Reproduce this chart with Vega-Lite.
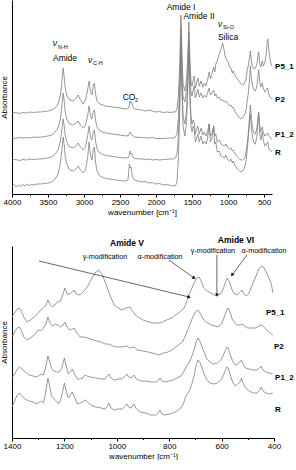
{
"$schema":"https://vega.github.io/schema/vega-lite/v6.json",
"padding":0,
"spacing":20,
"config":{"font":"Liberation Sans","view":{"stroke":null},
"axis":{"grid":false,"domainColor":"#000","tickColor":"#000","labelFontSize":8,"titleFontSize":8,"titleFontWeight":"normal","labelFont":"Liberation Sans","titleFont":"Liberation Sans","labelColor":"#000","titleColor":"#000","labelPadding":1,"titlePadding":2,"labelOverlap":false,"labelFlush":false},
"axisY":{"titlePadding":4}},
"datasets":{
"top":[
{"s":"P5_1","w":4000,"a":81},{"s":"P5_1","w":3950,"a":81.5},{"s":"P5_1","w":3900,"a":80.5},{"s":"P5_1","w":3850,"a":81.5},{"s":"P5_1","w":3800,"a":81},{"s":"P5_1","w":3750,"a":82},{"s":"P5_1","w":3700,"a":81.5},{"s":"P5_1","w":3650,"a":82},{"s":"P5_1","w":3600,"a":82},{"s":"P5_1","w":3550,"a":82.5},{"s":"P5_1","w":3500,"a":83},{"s":"P5_1","w":3450,"a":84},{"s":"P5_1","w":3400,"a":86},{"s":"P5_1","w":3360,"a":90},{"s":"P5_1","w":3330,"a":98},{"s":"P5_1","w":3310,"a":110},{"s":"P5_1","w":3290,"a":126},{"s":"P5_1","w":3275,"a":117},{"s":"P5_1","w":3260,"a":106},{"s":"P5_1","w":3240,"a":99},{"s":"P5_1","w":3200,"a":94},{"s":"P5_1","w":3150,"a":93},{"s":"P5_1","w":3110,"a":96},{"s":"P5_1","w":3080,"a":99},{"s":"P5_1","w":3050,"a":94},{"s":"P5_1","w":3010,"a":90},{"s":"P5_1","w":2980,"a":94},{"s":"P5_1","w":2950,"a":104},{"s":"P5_1","w":2930,"a":113},{"s":"P5_1","w":2910,"a":102},{"s":"P5_1","w":2890,"a":99},{"s":"P5_1","w":2870,"a":109},{"s":"P5_1","w":2855,"a":111},{"s":"P5_1","w":2840,"a":100},{"s":"P5_1","w":2820,"a":93},{"s":"P5_1","w":2780,"a":90},{"s":"P5_1","w":2700,"a":88},{"s":"P5_1","w":2600,"a":87},{"s":"P5_1","w":2500,"a":86},{"s":"P5_1","w":2420,"a":85},{"s":"P5_1","w":2380,"a":86},{"s":"P5_1","w":2360,"a":93},{"s":"P5_1","w":2350,"a":91},{"s":"P5_1","w":2340,"a":92},{"s":"P5_1","w":2320,"a":87},{"s":"P5_1","w":2300,"a":85},{"s":"P5_1","w":2250,"a":84.5},{"s":"P5_1","w":2200,"a":84},{"s":"P5_1","w":2150,"a":83},{"s":"P5_1","w":2100,"a":84},{"s":"P5_1","w":2050,"a":83},{"s":"P5_1","w":2000,"a":82},{"s":"P5_1","w":1950,"a":82.5},{"s":"P5_1","w":1900,"a":81.5},{"s":"P5_1","w":1850,"a":82},{"s":"P5_1","w":1800,"a":81.5},{"s":"P5_1","w":1760,"a":82},{"s":"P5_1","w":1730,"a":82},{"s":"P5_1","w":1710,"a":85},{"s":"P5_1","w":1690,"a":98},{"s":"P5_1","w":1670,"a":130},{"s":"P5_1","w":1655,"a":179},{"s":"P5_1","w":1640,"a":140},{"s":"P5_1","w":1625,"a":110},{"s":"P5_1","w":1600,"a":103},{"s":"P5_1","w":1575,"a":115},{"s":"P5_1","w":1555,"a":145},{"s":"P5_1","w":1545,"a":172},{"s":"P5_1","w":1530,"a":135},{"s":"P5_1","w":1515,"a":112},{"s":"P5_1","w":1500,"a":108},{"s":"P5_1","w":1485,"a":114},{"s":"P5_1","w":1470,"a":118},{"s":"P5_1","w":1455,"a":106},{"s":"P5_1","w":1440,"a":110},{"s":"P5_1","w":1420,"a":116},{"s":"P5_1","w":1400,"a":108},{"s":"P5_1","w":1375,"a":113},{"s":"P5_1","w":1350,"a":107},{"s":"P5_1","w":1330,"a":111},{"s":"P5_1","w":1306,"a":108},{"s":"P5_1","w":1285,"a":114},{"s":"P5_1","w":1263,"a":122},{"s":"P5_1","w":1245,"a":115},{"s":"P5_1","w":1225,"a":120},{"s":"P5_1","w":1200,"a":127},{"s":"P5_1","w":1185,"a":122},{"s":"P5_1","w":1170,"a":130},{"s":"P5_1","w":1150,"a":133},{"s":"P5_1","w":1130,"a":138},{"s":"P5_1","w":1110,"a":142},{"s":"P5_1","w":1090,"a":147},{"s":"P5_1","w":1075,"a":151},{"s":"P5_1","w":1060,"a":146},{"s":"P5_1","w":1040,"a":138},{"s":"P5_1","w":1020,"a":134},{"s":"P5_1","w":1000,"a":132},{"s":"P5_1","w":980,"a":127},{"s":"P5_1","w":960,"a":126},{"s":"P5_1","w":940,"a":121},{"s":"P5_1","w":930,"a":123},{"s":"P5_1","w":900,"a":118},{"s":"P5_1","w":870,"a":115},{"s":"P5_1","w":840,"a":112},{"s":"P5_1","w":810,"a":110},{"s":"P5_1","w":790,"a":109},{"s":"P5_1","w":770,"a":111},{"s":"P5_1","w":750,"a":115},{"s":"P5_1","w":735,"a":124},{"s":"P5_1","w":720,"a":128},{"s":"P5_1","w":705,"a":135},{"s":"P5_1","w":690,"a":143},{"s":"P5_1","w":675,"a":132},{"s":"P5_1","w":660,"a":127},{"s":"P5_1","w":640,"a":125},{"s":"P5_1","w":620,"a":126},{"s":"P5_1","w":600,"a":130},{"s":"P5_1","w":585,"a":137},{"s":"P5_1","w":575,"a":142},{"s":"P5_1","w":560,"a":130},{"s":"P5_1","w":545,"a":127},{"s":"P5_1","w":525,"a":133},{"s":"P5_1","w":510,"a":128},{"s":"P5_1","w":490,"a":131},{"s":"P5_1","w":470,"a":140},{"s":"P5_1","w":455,"a":153},{"s":"P5_1","w":448,"a":155},{"s":"P5_1","w":435,"a":145},{"s":"P5_1","w":420,"a":136},{"s":"P5_1","w":405,"a":130},{"s":"P5_1","w":390,"a":128},
{"s":"P2","w":4000,"a":56},{"s":"P2","w":3950,"a":55.5},{"s":"P2","w":3900,"a":56.5},{"s":"P2","w":3850,"a":56},{"s":"P2","w":3800,"a":56.5},{"s":"P2","w":3750,"a":56},{"s":"P2","w":3700,"a":57},{"s":"P2","w":3650,"a":56.5},{"s":"P2","w":3600,"a":57},{"s":"P2","w":3550,"a":57.5},{"s":"P2","w":3500,"a":58},{"s":"P2","w":3450,"a":59},{"s":"P2","w":3400,"a":62},{"s":"P2","w":3360,"a":66},{"s":"P2","w":3330,"a":74},{"s":"P2","w":3310,"a":86},{"s":"P2","w":3290,"a":101},{"s":"P2","w":3275,"a":93},{"s":"P2","w":3260,"a":82},{"s":"P2","w":3240,"a":75},{"s":"P2","w":3200,"a":70},{"s":"P2","w":3150,"a":69},{"s":"P2","w":3110,"a":71},{"s":"P2","w":3080,"a":73},{"s":"P2","w":3050,"a":69},{"s":"P2","w":3010,"a":66},{"s":"P2","w":2980,"a":69},{"s":"P2","w":2950,"a":78},{"s":"P2","w":2930,"a":88},{"s":"P2","w":2910,"a":78},{"s":"P2","w":2890,"a":75},{"s":"P2","w":2870,"a":83},{"s":"P2","w":2855,"a":84},{"s":"P2","w":2840,"a":74},{"s":"P2","w":2820,"a":67},{"s":"P2","w":2780,"a":63},{"s":"P2","w":2700,"a":61},{"s":"P2","w":2600,"a":60},{"s":"P2","w":2500,"a":59},{"s":"P2","w":2420,"a":58},{"s":"P2","w":2380,"a":58.5},{"s":"P2","w":2360,"a":62},{"s":"P2","w":2350,"a":60.5},{"s":"P2","w":2340,"a":60},{"s":"P2","w":2320,"a":58},{"s":"P2","w":2300,"a":57},{"s":"P2","w":2200,"a":56.5},{"s":"P2","w":2100,"a":56},{"s":"P2","w":2050,"a":56.5},{"s":"P2","w":2000,"a":55.5},{"s":"P2","w":1900,"a":55.5},{"s":"P2","w":1800,"a":56},{"s":"P2","w":1760,"a":56},{"s":"P2","w":1730,"a":57},{"s":"P2","w":1710,"a":60},{"s":"P2","w":1690,"a":75},{"s":"P2","w":1670,"a":110},{"s":"P2","w":1655,"a":169},{"s":"P2","w":1640,"a":125},{"s":"P2","w":1625,"a":97},{"s":"P2","w":1600,"a":92},{"s":"P2","w":1575,"a":105},{"s":"P2","w":1555,"a":135},{"s":"P2","w":1545,"a":162},{"s":"P2","w":1530,"a":125},{"s":"P2","w":1515,"a":102},{"s":"P2","w":1500,"a":98},{"s":"P2","w":1485,"a":104},{"s":"P2","w":1470,"a":108},{"s":"P2","w":1455,"a":96},{"s":"P2","w":1440,"a":99},{"s":"P2","w":1420,"a":105},{"s":"P2","w":1400,"a":97},{"s":"P2","w":1375,"a":101},{"s":"P2","w":1350,"a":96},{"s":"P2","w":1330,"a":99},{"s":"P2","w":1306,"a":97},{"s":"P2","w":1285,"a":101},{"s":"P2","w":1263,"a":106},{"s":"P2","w":1245,"a":99},{"s":"P2","w":1225,"a":101},{"s":"P2","w":1200,"a":104},{"s":"P2","w":1185,"a":98},{"s":"P2","w":1170,"a":100},{"s":"P2","w":1150,"a":96},{"s":"P2","w":1120,"a":97},{"s":"P2","w":1100,"a":94},{"s":"P2","w":1075,"a":94},{"s":"P2","w":1050,"a":92},{"s":"P2","w":1030,"a":93},{"s":"P2","w":1000,"a":90},{"s":"P2","w":980,"a":88},{"s":"P2","w":960,"a":89},{"s":"P2","w":940,"a":86},{"s":"P2","w":930,"a":87},{"s":"P2","w":900,"a":82},{"s":"P2","w":870,"a":79},{"s":"P2","w":840,"a":76},{"s":"P2","w":820,"a":75},{"s":"P2","w":800,"a":76},{"s":"P2","w":780,"a":78},{"s":"P2","w":760,"a":81},{"s":"P2","w":745,"a":86},{"s":"P2","w":735,"a":93},{"s":"P2","w":720,"a":100},{"s":"P2","w":705,"a":112},{"s":"P2","w":690,"a":128},{"s":"P2","w":675,"a":115},{"s":"P2","w":660,"a":108},{"s":"P2","w":640,"a":104},{"s":"P2","w":620,"a":103},{"s":"P2","w":600,"a":108},{"s":"P2","w":585,"a":117},{"s":"P2","w":575,"a":124},{"s":"P2","w":560,"a":112},{"s":"P2","w":545,"a":107},{"s":"P2","w":525,"a":111},{"s":"P2","w":510,"a":106},{"s":"P2","w":490,"a":102},{"s":"P2","w":470,"a":104},{"s":"P2","w":450,"a":106},{"s":"P2","w":435,"a":100},{"s":"P2","w":420,"a":97},{"s":"P2","w":405,"a":96},{"s":"P2","w":390,"a":95},
{"s":"P1_2","w":4000,"a":34},{"s":"P1_2","w":3950,"a":34.5},{"s":"P1_2","w":3900,"a":33.5},{"s":"P1_2","w":3850,"a":34.5},{"s":"P1_2","w":3800,"a":34},{"s":"P1_2","w":3750,"a":35},{"s":"P1_2","w":3700,"a":34.5},{"s":"P1_2","w":3650,"a":35},{"s":"P1_2","w":3600,"a":35},{"s":"P1_2","w":3550,"a":35.5},{"s":"P1_2","w":3500,"a":36},{"s":"P1_2","w":3450,"a":37},{"s":"P1_2","w":3400,"a":40},{"s":"P1_2","w":3360,"a":44},{"s":"P1_2","w":3330,"a":52},{"s":"P1_2","w":3310,"a":63},{"s":"P1_2","w":3290,"a":75},{"s":"P1_2","w":3275,"a":68},{"s":"P1_2","w":3260,"a":58},{"s":"P1_2","w":3240,"a":52},{"s":"P1_2","w":3200,"a":47},{"s":"P1_2","w":3150,"a":46},{"s":"P1_2","w":3110,"a":48},{"s":"P1_2","w":3080,"a":51},{"s":"P1_2","w":3050,"a":47},{"s":"P1_2","w":3010,"a":44},{"s":"P1_2","w":2980,"a":47},{"s":"P1_2","w":2950,"a":58},{"s":"P1_2","w":2930,"a":68},{"s":"P1_2","w":2910,"a":57},{"s":"P1_2","w":2890,"a":54},{"s":"P1_2","w":2870,"a":63},{"s":"P1_2","w":2855,"a":64},{"s":"P1_2","w":2840,"a":53},{"s":"P1_2","w":2820,"a":45},{"s":"P1_2","w":2780,"a":41},{"s":"P1_2","w":2700,"a":38.5},{"s":"P1_2","w":2600,"a":37.5},{"s":"P1_2","w":2500,"a":36.5},{"s":"P1_2","w":2420,"a":36},{"s":"P1_2","w":2380,"a":36.5},{"s":"P1_2","w":2360,"a":43},{"s":"P1_2","w":2350,"a":40},{"s":"P1_2","w":2340,"a":41},{"s":"P1_2","w":2320,"a":37},{"s":"P1_2","w":2300,"a":35.5},{"s":"P1_2","w":2200,"a":35},{"s":"P1_2","w":2150,"a":34.5},{"s":"P1_2","w":2100,"a":35},{"s":"P1_2","w":2050,"a":34},{"s":"P1_2","w":2000,"a":34.5},{"s":"P1_2","w":1950,"a":34},{"s":"P1_2","w":1900,"a":34.5},{"s":"P1_2","w":1800,"a":35},{"s":"P1_2","w":1760,"a":35},{"s":"P1_2","w":1730,"a":36},{"s":"P1_2","w":1710,"a":40},{"s":"P1_2","w":1690,"a":58},{"s":"P1_2","w":1670,"a":100},{"s":"P1_2","w":1655,"a":159},{"s":"P1_2","w":1640,"a":112},{"s":"P1_2","w":1625,"a":78},{"s":"P1_2","w":1600,"a":70},{"s":"P1_2","w":1575,"a":85},{"s":"P1_2","w":1555,"a":125},{"s":"P1_2","w":1545,"a":152},{"s":"P1_2","w":1530,"a":105},{"s":"P1_2","w":1515,"a":78},{"s":"P1_2","w":1500,"a":70},{"s":"P1_2","w":1485,"a":74},{"s":"P1_2","w":1470,"a":72},{"s":"P1_2","w":1455,"a":60},{"s":"P1_2","w":1440,"a":64},{"s":"P1_2","w":1420,"a":68},{"s":"P1_2","w":1400,"a":60},{"s":"P1_2","w":1375,"a":66},{"s":"P1_2","w":1350,"a":59},{"s":"P1_2","w":1330,"a":62},{"s":"P1_2","w":1306,"a":58},{"s":"P1_2","w":1285,"a":62},{"s":"P1_2","w":1263,"a":70},{"s":"P1_2","w":1245,"a":58},{"s":"P1_2","w":1225,"a":60},{"s":"P1_2","w":1200,"a":68},{"s":"P1_2","w":1185,"a":58},{"s":"P1_2","w":1170,"a":60},{"s":"P1_2","w":1150,"a":52},{"s":"P1_2","w":1120,"a":54},{"s":"P1_2","w":1100,"a":50},{"s":"P1_2","w":1075,"a":49},{"s":"P1_2","w":1050,"a":48},{"s":"P1_2","w":1030,"a":50},{"s":"P1_2","w":1000,"a":46},{"s":"P1_2","w":980,"a":45},{"s":"P1_2","w":960,"a":46},{"s":"P1_2","w":940,"a":43},{"s":"P1_2","w":930,"a":44},{"s":"P1_2","w":900,"a":40},{"s":"P1_2","w":870,"a":37},{"s":"P1_2","w":840,"a":35},{"s":"P1_2","w":820,"a":34},{"s":"P1_2","w":800,"a":34},{"s":"P1_2","w":780,"a":35},{"s":"P1_2","w":760,"a":38},{"s":"P1_2","w":745,"a":44},{"s":"P1_2","w":735,"a":50},{"s":"P1_2","w":720,"a":60},{"s":"P1_2","w":705,"a":75},{"s":"P1_2","w":690,"a":89},{"s":"P1_2","w":675,"a":75},{"s":"P1_2","w":660,"a":66},{"s":"P1_2","w":640,"a":61},{"s":"P1_2","w":620,"a":60},{"s":"P1_2","w":600,"a":66},{"s":"P1_2","w":585,"a":77},{"s":"P1_2","w":575,"a":82},{"s":"P1_2","w":560,"a":68},{"s":"P1_2","w":545,"a":62},{"s":"P1_2","w":525,"a":67},{"s":"P1_2","w":510,"a":62},{"s":"P1_2","w":490,"a":58},{"s":"P1_2","w":470,"a":59},{"s":"P1_2","w":450,"a":61},{"s":"P1_2","w":435,"a":58},{"s":"P1_2","w":420,"a":57},{"s":"P1_2","w":405,"a":56},{"s":"P1_2","w":390,"a":55},
{"s":"R","w":4000,"a":8},{"s":"R","w":3970,"a":9.5},{"s":"R","w":3940,"a":7},{"s":"R","w":3910,"a":9},{"s":"R","w":3880,"a":7.5},{"s":"R","w":3850,"a":9.5},{"s":"R","w":3820,"a":8},{"s":"R","w":3790,"a":10},{"s":"R","w":3760,"a":8.5},{"s":"R","w":3730,"a":9.5},{"s":"R","w":3700,"a":9},{"s":"R","w":3650,"a":10},{"s":"R","w":3600,"a":10},{"s":"R","w":3550,"a":10.5},{"s":"R","w":3500,"a":11},{"s":"R","w":3450,"a":12},{"s":"R","w":3400,"a":15},{"s":"R","w":3360,"a":20},{"s":"R","w":3330,"a":30},{"s":"R","w":3310,"a":42},{"s":"R","w":3290,"a":57},{"s":"R","w":3275,"a":49},{"s":"R","w":3260,"a":37},{"s":"R","w":3240,"a":30},{"s":"R","w":3200,"a":24},{"s":"R","w":3150,"a":23},{"s":"R","w":3110,"a":25},{"s":"R","w":3080,"a":28},{"s":"R","w":3050,"a":24},{"s":"R","w":3010,"a":21},{"s":"R","w":2980,"a":24},{"s":"R","w":2950,"a":36},{"s":"R","w":2930,"a":52},{"s":"R","w":2910,"a":38},{"s":"R","w":2890,"a":34},{"s":"R","w":2870,"a":45},{"s":"R","w":2855,"a":47},{"s":"R","w":2840,"a":32},{"s":"R","w":2820,"a":23},{"s":"R","w":2780,"a":18},{"s":"R","w":2700,"a":15.5},{"s":"R","w":2600,"a":14.5},{"s":"R","w":2500,"a":13.5},{"s":"R","w":2420,"a":13},{"s":"R","w":2390,"a":14},{"s":"R","w":2370,"a":30},{"s":"R","w":2358,"a":26},{"s":"R","w":2345,"a":27},{"s":"R","w":2330,"a":18},{"s":"R","w":2300,"a":14},{"s":"R","w":2250,"a":13},{"s":"R","w":2200,"a":12},{"s":"R","w":2150,"a":12.5},{"s":"R","w":2100,"a":11},{"s":"R","w":2050,"a":11.5},{"s":"R","w":2000,"a":10},{"s":"R","w":1950,"a":10.5},{"s":"R","w":1900,"a":9},{"s":"R","w":1850,"a":9.5},{"s":"R","w":1800,"a":8.5},{"s":"R","w":1760,"a":8},{"s":"R","w":1730,"a":8.5},{"s":"R","w":1710,"a":12},{"s":"R","w":1690,"a":35},{"s":"R","w":1670,"a":85},{"s":"R","w":1655,"a":149},{"s":"R","w":1640,"a":100},{"s":"R","w":1625,"a":68},{"s":"R","w":1600,"a":58},{"s":"R","w":1575,"a":72},{"s":"R","w":1555,"a":115},{"s":"R","w":1545,"a":142},{"s":"R","w":1530,"a":95},{"s":"R","w":1515,"a":68},{"s":"R","w":1500,"a":62},{"s":"R","w":1485,"a":68},{"s":"R","w":1470,"a":66},{"s":"R","w":1455,"a":52},{"s":"R","w":1440,"a":55},{"s":"R","w":1420,"a":60},{"s":"R","w":1400,"a":52},{"s":"R","w":1375,"a":58},{"s":"R","w":1350,"a":50},{"s":"R","w":1330,"a":53},{"s":"R","w":1306,"a":50},{"s":"R","w":1285,"a":55},{"s":"R","w":1263,"a":70},{"s":"R","w":1245,"a":52},{"s":"R","w":1225,"a":55},{"s":"R","w":1200,"a":68},{"s":"R","w":1185,"a":50},{"s":"R","w":1170,"a":52},{"s":"R","w":1150,"a":42},{"s":"R","w":1120,"a":43},{"s":"R","w":1100,"a":38},{"s":"R","w":1075,"a":37},{"s":"R","w":1050,"a":36},{"s":"R","w":1030,"a":39},{"s":"R","w":1000,"a":34},{"s":"R","w":980,"a":33},{"s":"R","w":960,"a":35},{"s":"R","w":940,"a":31},{"s":"R","w":930,"a":33},{"s":"R","w":900,"a":28},{"s":"R","w":870,"a":25},{"s":"R","w":840,"a":23},{"s":"R","w":820,"a":22},{"s":"R","w":800,"a":23},{"s":"R","w":780,"a":25},{"s":"R","w":760,"a":29},{"s":"R","w":745,"a":36},{"s":"R","w":735,"a":44},{"s":"R","w":720,"a":55},{"s":"R","w":705,"a":68},{"s":"R","w":690,"a":80},{"s":"R","w":675,"a":66},{"s":"R","w":660,"a":56},{"s":"R","w":640,"a":51},{"s":"R","w":620,"a":50},{"s":"R","w":600,"a":58},{"s":"R","w":585,"a":72},{"s":"R","w":575,"a":80},{"s":"R","w":560,"a":60},{"s":"R","w":545,"a":54},{"s":"R","w":525,"a":62},{"s":"R","w":510,"a":54},{"s":"R","w":490,"a":48},{"s":"R","w":470,"a":49},{"s":"R","w":450,"a":52},{"s":"R","w":435,"a":46},{"s":"R","w":420,"a":44},{"s":"R","w":405,"a":43},{"s":"R","w":390,"a":42}
],
"bot":[
{"s":"P5_1","w":1400,"a":121},{"s":"P5_1","w":1390,"a":125},{"s":"P5_1","w":1380,"a":129},{"s":"P5_1","w":1373,"a":130},{"s":"P5_1","w":1365,"a":127},{"s":"P5_1","w":1355,"a":121},{"s":"P5_1","w":1343,"a":116},{"s":"P5_1","w":1330,"a":118},{"s":"P5_1","w":1315,"a":121},{"s":"P5_1","w":1300,"a":125},{"s":"P5_1","w":1290,"a":128},{"s":"P5_1","w":1280,"a":130},{"s":"P5_1","w":1270,"a":133},{"s":"P5_1","w":1263,"a":138},{"s":"P5_1","w":1255,"a":134},{"s":"P5_1","w":1245,"a":131},{"s":"P5_1","w":1235,"a":134},{"s":"P5_1","w":1225,"a":136},{"s":"P5_1","w":1215,"a":137},{"s":"P5_1","w":1205,"a":144},{"s":"P5_1","w":1198,"a":150},{"s":"P5_1","w":1190,"a":144},{"s":"P5_1","w":1180,"a":144},{"s":"P5_1","w":1170,"a":146},{"s":"P5_1","w":1163,"a":148},{"s":"P5_1","w":1155,"a":144},{"s":"P5_1","w":1140,"a":143},{"s":"P5_1","w":1125,"a":147},{"s":"P5_1","w":1110,"a":152},{"s":"P5_1","w":1095,"a":160},{"s":"P5_1","w":1080,"a":166},{"s":"P5_1","w":1068,"a":168},{"s":"P5_1","w":1055,"a":163},{"s":"P5_1","w":1040,"a":153},{"s":"P5_1","w":1025,"a":142},{"s":"P5_1","w":1010,"a":133},{"s":"P5_1","w":995,"a":130},{"s":"P5_1","w":980,"a":128},{"s":"P5_1","w":965,"a":130},{"s":"P5_1","w":950,"a":131},{"s":"P5_1","w":940,"a":127},{"s":"P5_1","w":925,"a":122},{"s":"P5_1","w":900,"a":118},{"s":"P5_1","w":877,"a":116},{"s":"P5_1","w":860,"a":115},{"s":"P5_1","w":840,"a":115},{"s":"P5_1","w":825,"a":116},{"s":"P5_1","w":810,"a":118},{"s":"P5_1","w":790,"a":120},{"s":"P5_1","w":775,"a":123},{"s":"P5_1","w":755,"a":127},{"s":"P5_1","w":743,"a":130},{"s":"P5_1","w":735,"a":135},{"s":"P5_1","w":727,"a":141},{"s":"P5_1","w":718,"a":147},{"s":"P5_1","w":705,"a":155},{"s":"P5_1","w":695,"a":160},{"s":"P5_1","w":686,"a":161},{"s":"P5_1","w":678,"a":157},{"s":"P5_1","w":668,"a":150},{"s":"P5_1","w":655,"a":147},{"s":"P5_1","w":641,"a":145},{"s":"P5_1","w":630,"a":143},{"s":"P5_1","w":617,"a":142},{"s":"P5_1","w":605,"a":144},{"s":"P5_1","w":595,"a":148},{"s":"P5_1","w":585,"a":156},{"s":"P5_1","w":578,"a":160},{"s":"P5_1","w":570,"a":156},{"s":"P5_1","w":560,"a":148},{"s":"P5_1","w":550,"a":144},{"s":"P5_1","w":541,"a":143},{"s":"P5_1","w":530,"a":146},{"s":"P5_1","w":522,"a":148},{"s":"P5_1","w":515,"a":144},{"s":"P5_1","w":505,"a":142},{"s":"P5_1","w":495,"a":145},{"s":"P5_1","w":485,"a":152},{"s":"P5_1","w":470,"a":161},{"s":"P5_1","w":458,"a":169},{"s":"P5_1","w":448,"a":172},{"s":"P5_1","w":440,"a":171},{"s":"P5_1","w":430,"a":166},{"s":"P5_1","w":420,"a":160},{"s":"P5_1","w":411,"a":155},{"s":"P5_1","w":404,"a":145},
{"s":"P2","w":1400,"a":101},{"s":"P2","w":1390,"a":106},{"s":"P2","w":1380,"a":110},{"s":"P2","w":1373,"a":111},{"s":"P2","w":1365,"a":108},{"s":"P2","w":1355,"a":101},{"s":"P2","w":1343,"a":98},{"s":"P2","w":1330,"a":100},{"s":"P2","w":1315,"a":103},{"s":"P2","w":1300,"a":108},{"s":"P2","w":1290,"a":107},{"s":"P2","w":1280,"a":110},{"s":"P2","w":1270,"a":114},{"s":"P2","w":1263,"a":121},{"s":"P2","w":1255,"a":115},{"s":"P2","w":1245,"a":112},{"s":"P2","w":1235,"a":114},{"s":"P2","w":1225,"a":113},{"s":"P2","w":1215,"a":111},{"s":"P2","w":1205,"a":113},{"s":"P2","w":1198,"a":116},{"s":"P2","w":1190,"a":111},{"s":"P2","w":1180,"a":108},{"s":"P2","w":1170,"a":109},{"s":"P2","w":1163,"a":110},{"s":"P2","w":1155,"a":106},{"s":"P2","w":1140,"a":101},{"s":"P2","w":1125,"a":101},{"s":"P2","w":1110,"a":100},{"s":"P2","w":1090,"a":98},{"s":"P2","w":1075,"a":97},{"s":"P2","w":1060,"a":96},{"s":"P2","w":1045,"a":94},{"s":"P2","w":1030,"a":94},{"s":"P2","w":1015,"a":92},{"s":"P2","w":1000,"a":91},{"s":"P2","w":980,"a":91},{"s":"P2","w":962,"a":92},{"s":"P2","w":950,"a":90},{"s":"P2","w":935,"a":91},{"s":"P2","w":920,"a":88},{"s":"P2","w":900,"a":87},{"s":"P2","w":880,"a":86},{"s":"P2","w":866,"a":85},{"s":"P2","w":850,"a":84},{"s":"P2","w":840,"a":83},{"s":"P2","w":830,"a":84},{"s":"P2","w":820,"a":85},{"s":"P2","w":805,"a":86},{"s":"P2","w":790,"a":88},{"s":"P2","w":775,"a":91},{"s":"P2","w":760,"a":94},{"s":"P2","w":750,"a":96},{"s":"P2","w":740,"a":101},{"s":"P2","w":730,"a":108},{"s":"P2","w":720,"a":114},{"s":"P2","w":710,"a":121},{"s":"P2","w":700,"a":126},{"s":"P2","w":690,"a":128},{"s":"P2","w":680,"a":124},{"s":"P2","w":670,"a":119},{"s":"P2","w":660,"a":116},{"s":"P2","w":640,"a":113},{"s":"P2","w":625,"a":112},{"s":"P2","w":614,"a":111},{"s":"P2","w":600,"a":114},{"s":"P2","w":590,"a":121},{"s":"P2","w":580,"a":128},{"s":"P2","w":575,"a":130},{"s":"P2","w":568,"a":126},{"s":"P2","w":560,"a":119},{"s":"P2","w":550,"a":115},{"s":"P2","w":540,"a":113},{"s":"P2","w":530,"a":113},{"s":"P2","w":522,"a":114},{"s":"P2","w":512,"a":112},{"s":"P2","w":500,"a":110},{"s":"P2","w":485,"a":110},{"s":"P2","w":470,"a":110},{"s":"P2","w":458,"a":112},{"s":"P2","w":446,"a":113},{"s":"P2","w":435,"a":110},{"s":"P2","w":420,"a":106},{"s":"P2","w":410,"a":104},{"s":"P2","w":404,"a":103},
{"s":"P1_2","w":1400,"a":60},{"s":"P1_2","w":1390,"a":64},{"s":"P1_2","w":1380,"a":69},{"s":"P1_2","w":1372,"a":71},{"s":"P1_2","w":1362,"a":69},{"s":"P1_2","w":1350,"a":66},{"s":"P1_2","w":1335,"a":63},{"s":"P1_2","w":1320,"a":62},{"s":"P1_2","w":1305,"a":61},{"s":"P1_2","w":1295,"a":63},{"s":"P1_2","w":1288,"a":64},{"s":"P1_2","w":1280,"a":63},{"s":"P1_2","w":1272,"a":70},{"s":"P1_2","w":1263,"a":82},{"s":"P1_2","w":1256,"a":76},{"s":"P1_2","w":1250,"a":70},{"s":"P1_2","w":1240,"a":67},{"s":"P1_2","w":1230,"a":66},{"s":"P1_2","w":1220,"a":66},{"s":"P1_2","w":1210,"a":70},{"s":"P1_2","w":1200,"a":80},{"s":"P1_2","w":1193,"a":72},{"s":"P1_2","w":1185,"a":64},{"s":"P1_2","w":1177,"a":66},{"s":"P1_2","w":1170,"a":69},{"s":"P1_2","w":1160,"a":63},{"s":"P1_2","w":1150,"a":59},{"s":"P1_2","w":1140,"a":59},{"s":"P1_2","w":1130,"a":60},{"s":"P1_2","w":1122,"a":63},{"s":"P1_2","w":1115,"a":62},{"s":"P1_2","w":1100,"a":61},{"s":"P1_2","w":1080,"a":60},{"s":"P1_2","w":1060,"a":59},{"s":"P1_2","w":1045,"a":59},{"s":"P1_2","w":1036,"a":62},{"s":"P1_2","w":1030,"a":64},{"s":"P1_2","w":1022,"a":60},{"s":"P1_2","w":1010,"a":58},{"s":"P1_2","w":995,"a":59},{"s":"P1_2","w":980,"a":59},{"s":"P1_2","w":968,"a":62},{"s":"P1_2","w":962,"a":64},{"s":"P1_2","w":955,"a":61},{"s":"P1_2","w":945,"a":60},{"s":"P1_2","w":935,"a":63},{"s":"P1_2","w":925,"a":59},{"s":"P1_2","w":910,"a":57},{"s":"P1_2","w":890,"a":57},{"s":"P1_2","w":870,"a":56},{"s":"P1_2","w":850,"a":56},{"s":"P1_2","w":840,"a":58},{"s":"P1_2","w":835,"a":60},{"s":"P1_2","w":828,"a":57},{"s":"P1_2","w":815,"a":56},{"s":"P1_2","w":800,"a":57},{"s":"P1_2","w":785,"a":58},{"s":"P1_2","w":770,"a":60},{"s":"P1_2","w":755,"a":62},{"s":"P1_2","w":745,"a":66},{"s":"P1_2","w":735,"a":71},{"s":"P1_2","w":725,"a":75},{"s":"P1_2","w":715,"a":81},{"s":"P1_2","w":705,"a":88},{"s":"P1_2","w":697,"a":96},{"s":"P1_2","w":690,"a":100},{"s":"P1_2","w":683,"a":97},{"s":"P1_2","w":675,"a":91},{"s":"P1_2","w":668,"a":87},{"s":"P1_2","w":658,"a":80},{"s":"P1_2","w":645,"a":76},{"s":"P1_2","w":630,"a":74},{"s":"P1_2","w":615,"a":75},{"s":"P1_2","w":600,"a":79},{"s":"P1_2","w":590,"a":85},{"s":"P1_2","w":580,"a":91},{"s":"P1_2","w":575,"a":90},{"s":"P1_2","w":568,"a":84},{"s":"P1_2","w":558,"a":77},{"s":"P1_2","w":548,"a":73},{"s":"P1_2","w":538,"a":74},{"s":"P1_2","w":530,"a":76},{"s":"P1_2","w":524,"a":78},{"s":"P1_2","w":517,"a":73},{"s":"P1_2","w":508,"a":70},{"s":"P1_2","w":495,"a":69},{"s":"P1_2","w":480,"a":68},{"s":"P1_2","w":465,"a":68},{"s":"P1_2","w":455,"a":70},{"s":"P1_2","w":449,"a":72},{"s":"P1_2","w":442,"a":68},{"s":"P1_2","w":430,"a":66},{"s":"P1_2","w":418,"a":65},{"s":"P1_2","w":405,"a":64},
{"s":"R","w":1400,"a":31},{"s":"R","w":1390,"a":37},{"s":"R","w":1380,"a":43},{"s":"R","w":1372,"a":45},{"s":"R","w":1362,"a":42},{"s":"R","w":1350,"a":39},{"s":"R","w":1335,"a":37},{"s":"R","w":1320,"a":36},{"s":"R","w":1305,"a":34},{"s":"R","w":1295,"a":36},{"s":"R","w":1288,"a":37},{"s":"R","w":1280,"a":35},{"s":"R","w":1272,"a":45},{"s":"R","w":1263,"a":60},{"s":"R","w":1256,"a":52},{"s":"R","w":1250,"a":43},{"s":"R","w":1240,"a":39},{"s":"R","w":1230,"a":37},{"s":"R","w":1222,"a":34},{"s":"R","w":1212,"a":40},{"s":"R","w":1200,"a":55},{"s":"R","w":1193,"a":47},{"s":"R","w":1185,"a":40},{"s":"R","w":1177,"a":43},{"s":"R","w":1170,"a":46},{"s":"R","w":1160,"a":40},{"s":"R","w":1150,"a":34},{"s":"R","w":1140,"a":35},{"s":"R","w":1130,"a":36},{"s":"R","w":1122,"a":38},{"s":"R","w":1115,"a":37},{"s":"R","w":1100,"a":33},{"s":"R","w":1080,"a":31},{"s":"R","w":1060,"a":30},{"s":"R","w":1045,"a":29},{"s":"R","w":1036,"a":32},{"s":"R","w":1030,"a":35},{"s":"R","w":1022,"a":30},{"s":"R","w":1010,"a":28},{"s":"R","w":995,"a":29},{"s":"R","w":980,"a":29},{"s":"R","w":968,"a":32},{"s":"R","w":962,"a":34},{"s":"R","w":955,"a":31},{"s":"R","w":945,"a":30},{"s":"R","w":935,"a":34},{"s":"R","w":925,"a":29},{"s":"R","w":910,"a":26},{"s":"R","w":890,"a":25},{"s":"R","w":870,"a":23},{"s":"R","w":850,"a":23},{"s":"R","w":840,"a":26},{"s":"R","w":835,"a":28},{"s":"R","w":828,"a":24},{"s":"R","w":815,"a":23},{"s":"R","w":800,"a":24},{"s":"R","w":785,"a":25},{"s":"R","w":770,"a":27},{"s":"R","w":755,"a":30},{"s":"R","w":745,"a":35},{"s":"R","w":735,"a":43},{"s":"R","w":725,"a":46},{"s":"R","w":715,"a":53},{"s":"R","w":705,"a":62},{"s":"R","w":697,"a":73},{"s":"R","w":690,"a":78},{"s":"R","w":683,"a":76},{"s":"R","w":675,"a":70},{"s":"R","w":668,"a":65},{"s":"R","w":658,"a":59},{"s":"R","w":645,"a":55},{"s":"R","w":630,"a":54},{"s":"R","w":615,"a":55},{"s":"R","w":600,"a":59},{"s":"R","w":590,"a":65},{"s":"R","w":580,"a":71},{"s":"R","w":575,"a":70},{"s":"R","w":568,"a":64},{"s":"R","w":558,"a":56},{"s":"R","w":548,"a":52},{"s":"R","w":538,"a":54},{"s":"R","w":530,"a":56},{"s":"R","w":524,"a":60},{"s":"R","w":517,"a":54},{"s":"R","w":508,"a":50},{"s":"R","w":495,"a":47},{"s":"R","w":480,"a":45},{"s":"R","w":465,"a":45},{"s":"R","w":455,"a":48},{"s":"R","w":449,"a":51},{"s":"R","w":442,"a":47},{"s":"R","w":430,"a":45},{"s":"R","w":418,"a":44},{"s":"R","w":405,"a":45}
],
"topNotes":[{"t":"Amide","w":3264,"a":136},{"t":"CO","w":2375,"a":97},{"t":"Amide I","w":1653,"a":187},{"t":"Amide II","w":1403,"a":178},{"t":"Silica","w":1000,"a":157}],
"topNu":[{"t":"ν","w":3403,"a":151},{"t":"ν","w":2917,"a":134},{"t":"ν","w":1111,"a":170}],
"topSubs":[{"t":"N-H","w":3361,"a":147},{"t":"C-H","w":2875,"a":131},{"t":"Si-O","w":1069,"a":167},{"t":"2","w":2292,"a":94}],
"topLabels":[{"t":"P5_1","w":347,"a":127},{"t":"P2","w":347,"a":94},{"t":"P1_2","w":347,"a":59},{"t":"R","w":347,"a":41}],
"botBold":[{"t":"Amide V","w":961,"a":195},{"t":"Amide VI","w":545,"a":198}],
"botNotes":[{"t":"γ-modification","w":1045,"a":181},{"t":"α-modification","w":835,"a":181},{"t":"γ-modification","w":633,"a":187},{"t":"α-modification","w":438,"a":187}],
"botLabels":[{"t":"P5_1","w":431,"a":125},{"t":"P2","w":400,"a":91},{"t":"P1_2","w":396,"a":60},{"t":"R","w":396,"a":28}],
"arrows":[{"w":1297,"a":177,"w2":724,"a2":141},{"w":801,"a":178,"w2":705,"a2":160},{"w":618,"a":183,"w2":618,"a2":143},{"w":503,"a":183,"w2":560,"a2":163}],
"heads":[{"w":724,"a":141,"ang":13.5},{"w":705,"a":160,"ang":36},{"w":618,"a":143,"ang":90},{"w":560,"a":163,"ang":127}]
},
"vconcat":[
{"width":260,"height":194,
"encoding":{
"x":{"field":"w","type":"quantitative","scale":{"domain":[390,4000],"reverse":true,"nice":false,"zero":false},
"axis":{"title":"wavenumber [cm⁻¹]","values":[4000,3750,3500,3250,3000,2750,2500,2250,2000,1750,1500,1250,1000,750,500],"format":"d","labelExpr":"datum.value % 500 === 0 ? datum.label : ''","tickSize":{"condition":{"test":"datum.value % 500 === 0","value":3},"value":1.5}}},
"y":{"field":"a","type":"quantitative","scale":{"domain":[0,194],"nice":false,"zero":false},"axis":{"title":"Absorbance","labels":false,"ticks":false}}},
"layer":[
{"data":{"name":"top"},"mark":{"type":"line","color":"#7f7f7f","strokeWidth":0.8},"encoding":{"detail":{"field":"s"}}},
{"data":{"name":"topNotes"},"mark":{"type":"text","fontSize":8.5,"color":"#000"},"encoding":{"text":{"field":"t"}}},
{"data":{"name":"topNu"},"mark":{"type":"text","fontSize":8.5,"fontStyle":"italic","color":"#000"},"encoding":{"text":{"field":"t"}}},
{"data":{"name":"topSubs"},"mark":{"type":"text","fontSize":5.5,"align":"left","color":"#000"},"encoding":{"text":{"field":"t"}}},
{"data":{"name":"topLabels"},"mark":{"type":"text","fontSize":8,"fontWeight":"bold","align":"left","color":"#000"},"encoding":{"text":{"field":"t"}}}
]},
{"width":262,"height":192,
"encoding":{
"x":{"field":"w","type":"quantitative","scale":{"domain":[400,1400],"reverse":true,"nice":false,"zero":false},
"axis":{"title":"wavenumber [cm⁻¹]","values":[1400,1300,1200,1100,1000,900,800,700,600,500,400],"format":"d","labelExpr":"datum.value % 200 === 0 ? datum.label : ''","tickSize":{"condition":{"test":"datum.value % 200 === 0","value":3},"value":1.5}}},
"y":{"field":"a","type":"quantitative","scale":{"domain":[0,192],"nice":false,"zero":false},"axis":{"title":"Absorbance","labels":false,"ticks":false}}},
"layer":[
{"data":{"name":"bot"},"mark":{"type":"line","color":"#7f7f7f","strokeWidth":0.8},"encoding":{"detail":{"field":"s"}}},
{"data":{"name":"arrows"},"mark":{"type":"rule","color":"#000","strokeWidth":0.6},"encoding":{"x2":{"field":"w2"},"y2":{"field":"a2"}}},
{"data":{"name":"heads"},"mark":{"type":"point","shape":"triangle-right","filled":true,"color":"#000","size":14,"opacity":1},"encoding":{"angle":{"field":"ang","type":"quantitative","scale":null}}},
{"data":{"name":"botBold"},"mark":{"type":"text","fontSize":8.5,"fontWeight":"bold","color":"#000"},"encoding":{"text":{"field":"t"}}},
{"data":{"name":"botNotes"},"mark":{"type":"text","fontSize":7.2,"color":"#000"},"encoding":{"text":{"field":"t"}}},
{"data":{"name":"botLabels"},"mark":{"type":"text","fontSize":8,"fontWeight":"bold","align":"left","color":"#000"},"encoding":{"text":{"field":"t"}}}
]}
]
}
